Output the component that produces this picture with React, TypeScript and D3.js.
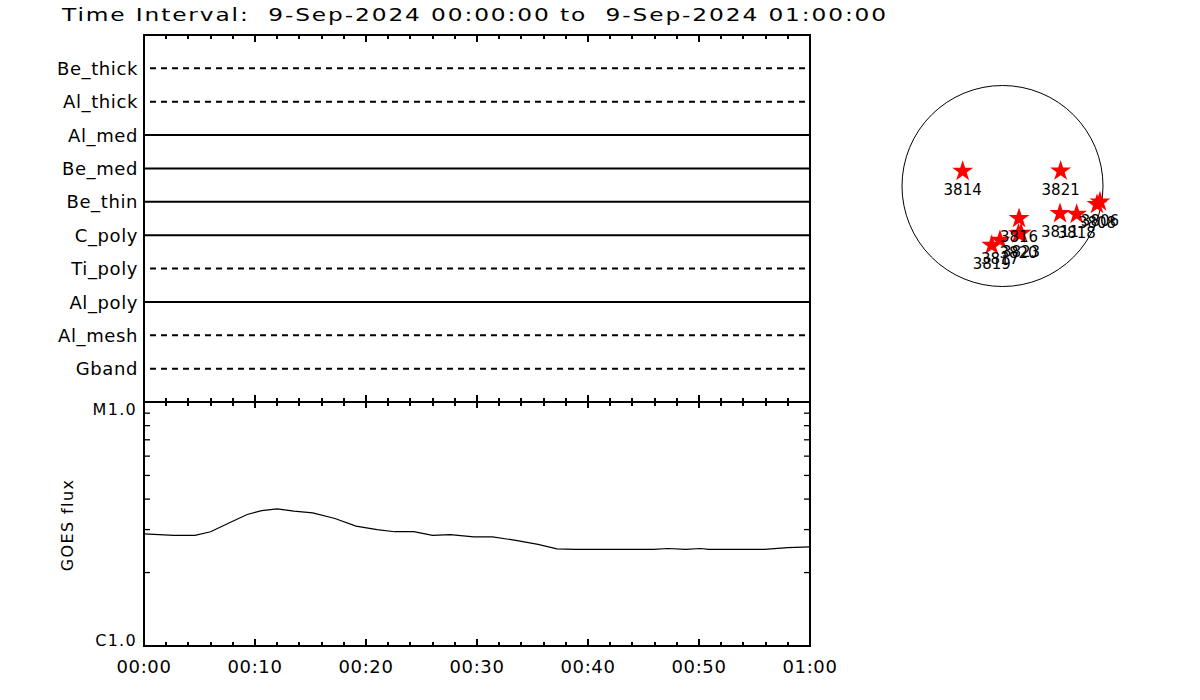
import React from "react";
import * as d3 from "d3";

// ---- data ----
const titleText = "Time Interval:  9-Sep-2024 00:00:00 to  9-Sep-2024 01:00:00";

const filterLabels = ["Be_thick", "Al_thick", "Al_med", "Be_med", "Be_thin", "C_poly", "Ti_poly", "Al_poly", "Al_mesh", "Gband"];
const filterInUse = [false, false, true, true, true, true, false, true, false, false];

const timeTickLabels = ["00:00", "00:10", "00:20", "00:30", "00:40", "00:50", "01:00"];
const timeTickMinutes = [0, 10, 20, 30, 40, 50, 60];

const fluxTickLabels = ["C1.0", "M1.0"];
const fluxTickValues = [1e-6, 1e-5];

// GOES flux (W/m^2) vs minutes after 00:00
const goesMinutes = [0, 2.7, 4.6, 6.0, 7.7, 9.3, 10.6, 12.0, 13.5, 15.2, 17.2, 19.1, 21.0, 22.6, 24.3, 26.0, 27.6, 29.7, 31.4, 33.5, 35.5, 37.2, 38.9, 45.9, 47.2, 48.8, 50.1, 50.9, 55.9, 58.0, 60];
const goesFlux = [2.88, 2.84, 2.84, 2.94, 3.2, 3.46, 3.59, 3.65, 3.57, 3.51, 3.33, 3.1, 3.0, 2.94, 2.94, 2.84, 2.86, 2.8, 2.8, 2.71, 2.61, 2.5, 2.49, 2.49, 2.51, 2.49, 2.51, 2.49, 2.49, 2.53, 2.55].map((v) => v * 1e-6);

// Active regions (helioprojective arcsec)
const solarRadiusArcsec = 954;
const arNumbers = ["3814", "3821", "3811", "3818", "3806", "3808", "3816", "3820", "3823", "3817", "3819"];
const arX = [-378, 552, 546, 704, 925, 897, 157, 152, 176, -24, -102];
const arY = [140, 143, -261, -268, -150, -175, -308, -453, -448, -514, -562];

export default function App() {
  const W = 1200, H = 700;
  const left = 144, right = 810, top = 35, mid = 402, bottom = 646;

  const x = d3.scaleLinear().domain([0, 60]).range([left, right]);
  const yFilter = d3.scalePoint<string>().domain(filterLabels).range([top, mid]).padding(1);
  const yFlux = d3.scaleLog().domain([1e-6, 1e-5]).range([bottom, mid]);

  const minorMinutes = d3.range(0, 61, 2);
  const minorFlux = d3.range(2, 10).map((v) => v * 1e-6);

  const line = d3
    .line<number>()
    .x((_, i) => x(goesMinutes[i]))
    .y((d) => yFlux(d));

  // Solar disk
  const cx = 1002.5, cy = 186, rPx = 100.5;
  const sx = d3.scaleLinear().domain([-solarRadiusArcsec, solarRadiusArcsec]).range([cx - rPx, cx + rPx]);
  const sy = d3.scaleLinear().domain([-solarRadiusArcsec, solarRadiusArcsec]).range([cy + rPx, cy - rPx]);
  const star = d3.symbol().type(d3.symbolStar).size(136)();

  const font = "DejaVu Sans";
  const axisW = 2;

  return (
    <svg width={W} height={H} style={{ position: "absolute", left: 0, top: 0, background: "#fff" }} fontFamily={font}>
      <rect x={0} y={0} width={W} height={H} fill="#fff" />
      {/* Title */}
      <text x={62} y={21} fontSize={18.5} letterSpacing={1.5} textLength={826} lengthAdjust="spacingAndGlyphs" style={{ whiteSpace: "pre" }} fill="#000">
        {titleText}
      </text>

      {/* Top panel filter lines */}
      {filterLabels.map((lab, i) => {
        const yy = yFilter(lab)!;
        return (
          <g key={lab}>
            <line
              x1={filterInUse[i] ? left : left + 6}
              x2={filterInUse[i] ? right : right - 4}
              y1={yy}
              y2={yy}
              stroke="#000"
              strokeWidth={2}
              strokeDasharray={filterInUse[i] ? undefined : "6,5"}
            />
            <text x={138} y={yy + 6.6} fontSize={18} textAnchor="end" letterSpacing={0.6} fill="#000">
              {lab}
            </text>
          </g>
        );
      })}

      {/* GOES curve */}
      <path d={line(goesFlux) || ""} fill="none" stroke="#000" strokeWidth={1.2} />

      {/* Axes frame */}
      <g stroke="#000" strokeWidth={axisW} shapeRendering="crispEdges">
        <line x1={left} x2={right + 1} y1={top} y2={top} />
        <line x1={left} x2={right + 1} y1={mid} y2={mid} />
        <line x1={left} x2={right + 1} y1={bottom} y2={bottom} />
        <line x1={left} x2={left} y1={top - 1} y2={bottom + 1} />
        <line x1={right} x2={right} y1={top - 1} y2={bottom + 1} />
        {/* time ticks */}
        {minorMinutes.map((m) => {
          const major = m % 10 === 0;
          const xx = x(m);
          return (
            <g key={m}>
              <line x1={xx} x2={xx} y1={top} y2={top + (major ? 7 : 4)} />
              <line x1={xx} x2={xx} y1={mid - (major ? 7 : 4)} y2={mid + (major ? 6 : 4)} />
              <line x1={xx} x2={xx} y1={bottom} y2={bottom - (major ? 7 : 4)} />
            </g>
          );
        })}
      </g>
      {/* flux minor ticks */}
      <g stroke="#000" strokeWidth={1.3}>
        {minorFlux.map((v) => (
          <g key={v}>
            <line x1={left} x2={left + 6} y1={yFlux(v)} y2={yFlux(v)} />
            <line x1={right} x2={right - 6} y1={yFlux(v)} y2={yFlux(v)} />
          </g>
        ))}
      </g>

      {/* time labels */}
      {timeTickLabels.map((lab, i) => (
        <text key={lab} x={x(timeTickMinutes[i])} y={673} fontSize={18} textAnchor="middle" letterSpacing={0.6} fill="#000">
          {lab}
        </text>
      ))}
      {/* flux labels */}
      {fluxTickLabels.map((lab, i) => (
        <text
          key={lab}
          x={137}
          y={i === 1 ? yFlux(fluxTickValues[i]) + 13 : yFlux(fluxTickValues[i])}
          fontSize={16}
          textAnchor="end"
          letterSpacing={1.3}
          fill="#000"
        >
          {lab}
        </text>
      ))}
      <text transform={`translate(73,525) rotate(-90)`} fontSize={16} textAnchor="middle" letterSpacing={1.4} fill="#000">
        GOES flux
      </text>

      {/* Solar disk */}
      <circle cx={cx} cy={cy} r={rPx} fill="none" stroke="#000" strokeWidth={1} />
      {arNumbers.map((n, i) => (
        <path key={"s" + n} d={star || ""} transform={`translate(${sx(arX[i])},${sy(arY[i])})`} fill="#ff0000" />
      ))}
      {arNumbers.map((n, i) => (
        <text key={"t" + n} x={sx(arX[i])} y={sy(arY[i]) + 24} fontSize={15} textAnchor="middle" fill="#000">
          {n}
        </text>
      ))}
    </svg>
  );
}
